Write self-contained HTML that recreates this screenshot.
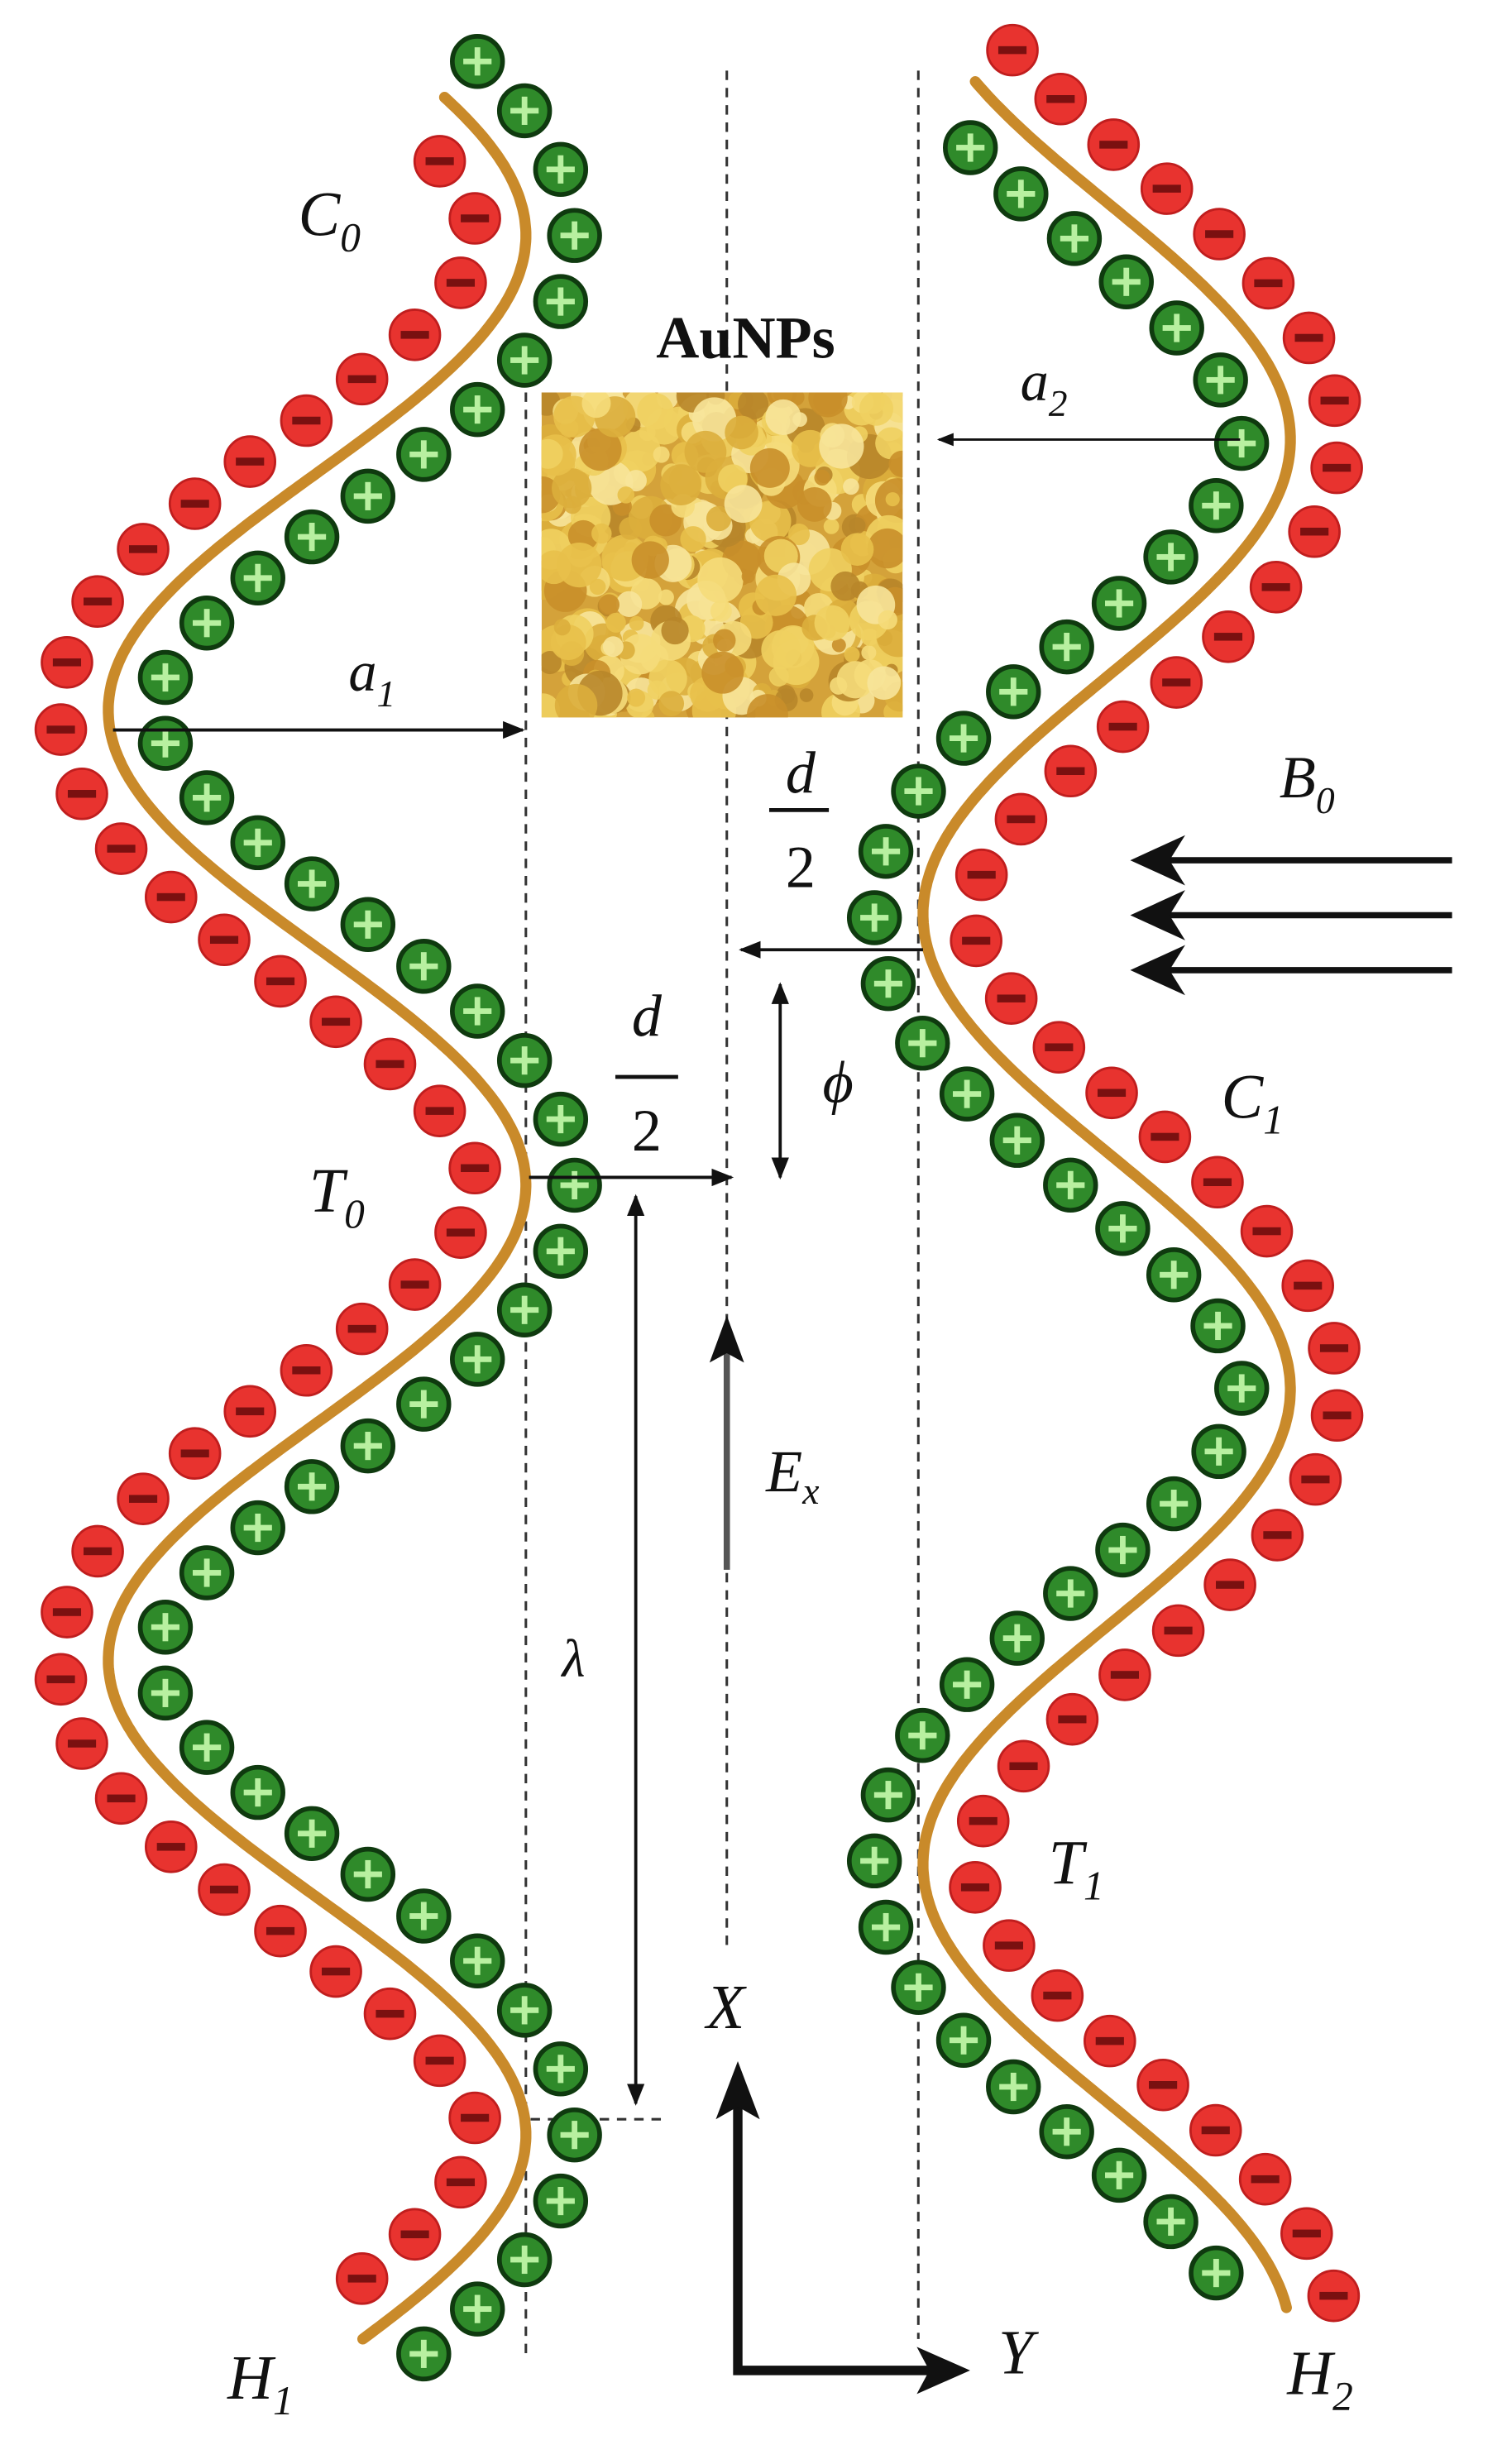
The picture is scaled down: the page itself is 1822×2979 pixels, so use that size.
<!DOCTYPE html>
<html><head><meta charset="utf-8">
<style>
html,body{margin:0;padding:0;background:#fff;}
svg{display:block;}
text{font-family:"Liberation Serif",serif;fill:#111;}
.it{font-style:italic;}
</style></head>
<body>
<svg id="s" xmlns="http://www.w3.org/2000/svg" width="1822" height="2979" viewBox="0 0 960 1569.6">
<defs>
<marker id="ah" viewBox="0 0 10 10" refX="9" refY="5" markerWidth="7" markerHeight="7" orient="auto-start-reverse"><path d="M0,1 L10,5 L0,9 z" fill="#111"/></marker>
<clipPath id="cp"><rect x="345" y="250" width="230" height="207"/></clipPath>
</defs>
<g stroke="#333" stroke-width="1.6" stroke-dasharray="6,5" fill="none">
<line x1="335" y1="250" x2="335" y2="1500"/>
<line x1="463" y1="45" x2="463" y2="1240"/>
<line x1="585" y1="45" x2="585" y2="1490"/>
<line x1="338" y1="1350" x2="425" y2="1350"/>
</g>
<g id="gold" clip-path="url(#cp)"><rect x="345" y="250" width="230" height="207" fill="#d4a23a"/></g>
<g id="helix"></g>
<text x="475" y="228" font-size="38" font-weight="bold" text-anchor="middle">AuNPs</text>
<text class="it" x="190" y="150" font-size="40">C<tspan font-size="26" dy="10">0</tspan></text>
<text class="it" x="650" y="255" font-size="36">a<tspan font-size="24" dy="10">2</tspan></text>
<text class="it" x="222" y="440" font-size="36">a<tspan font-size="24" dy="10">1</tspan></text>
<text class="it" x="815" y="508" font-size="38">B<tspan font-size="24" dy="10">0</tspan></text>
<text class="it" x="778" y="712" font-size="40">C<tspan font-size="26" dy="10">1</tspan></text>
<text class="it" x="197" y="772" font-size="40">T<tspan font-size="26" dy="10">0</tspan></text>
<text class="it" x="488" y="950" font-size="38">E<tspan font-size="24" dy="8">x</tspan></text>
<text class="it" x="358" y="1068" font-size="34">λ</text>
<text class="it" x="668" y="1200" font-size="40">T<tspan font-size="26" dy="10">1</tspan></text>
<text class="it" x="450" y="1292" font-size="40">X</text>
<text class="it" x="636" y="1512" font-size="40">Y</text>
<text class="it" x="145" y="1528" font-size="40">H<tspan font-size="26" dy="10">1</tspan></text>
<text class="it" x="820" y="1525" font-size="40">H<tspan font-size="26" dy="10">2</tspan></text>
<text class="it" x="524" y="702" font-size="38">ϕ</text>
<text class="it" x="510" y="505" font-size="38" text-anchor="middle">d</text>
<line x1="490" y1="516" x2="528" y2="516" stroke="#111" stroke-width="2.5"/>
<text x="510" y="565" font-size="38" text-anchor="middle">2</text>
<text class="it" x="412" y="660" font-size="38" text-anchor="middle">d</text>
<line x1="392" y1="686" x2="432" y2="686" stroke="#111" stroke-width="2.5"/>
<text x="412" y="733" font-size="38" text-anchor="middle">2</text>
<g stroke="#111" stroke-width="2" fill="none">
<line x1="72" y1="465" x2="333" y2="465" marker-end="url(#ah)"/>
<line x1="790" y1="280" x2="598" y2="280" stroke-width="1.5" marker-end="url(#ah)"/>
<line x1="588" y1="605" x2="472" y2="605" marker-end="url(#ah)"/>
<line x1="337" y1="750" x2="466" y2="750" marker-end="url(#ah)"/>
<line x1="497" y1="627" x2="497" y2="750" marker-start="url(#ah)" marker-end="url(#ah)"/>
<line x1="405" y1="762" x2="405" y2="1340" marker-start="url(#ah)" marker-end="url(#ah)"/>
<line x1="463" y1="1000" x2="463" y2="860" stroke="#555" stroke-width="4"/>
<path d="M470,1340 L470,1510 L595,1510" stroke-width="6"/>
<line x1="925" y1="548" x2="740" y2="548" stroke-width="4"/>
<line x1="925" y1="583" x2="740" y2="583" stroke-width="4"/>
<line x1="925" y1="618" x2="740" y2="618" stroke-width="4"/>
</g>
<g fill="#111">
<polygon points="463,838 452,868 463,862 474,868"/>
<polygon points="470,1313 456,1350 470,1342 484,1350"/>
<polygon points="618,1510 584,1495 592,1510 584,1525"/>
<polygon points="720,548 755,532 745,548 755,564"/>
<polygon points="720,583 755,567 745,583 755,599"/>
<polygon points="720,618 755,602 745,618 755,634"/>
</g>
</svg>
<script>
(function(){
var NS="http://www.w3.org/2000/svg",h=document.getElementById('helix'),gold=document.getElementById('gold');
function el(t,a,p){var e=document.createElementNS(NS,t);for(var k in a)e.setAttribute(k,a[k]);(p||h).appendChild(e);return e;}
var seed=7;function rnd(){seed=(seed*9301+49297)%233280;return seed/233280;}
var cols=["#e8c04a","#f0d060","#c98f2a","#f5dc7a","#dcae3c","#b8862a","#f7e49a"];
for(var i=0;i<420;i++){el('circle',{cx:345+rnd()*230,cy:250+rnd()*207,r:4+rnd()*11,fill:cols[Math.floor(rnd()*cols.length)],opacity:0.9},gold);}
function resample(pts,step){var out=[pts[0]],acc=0;for(var i=1;i<pts.length;i++){var dx=pts[i][0]-pts[i-1][0],dy=pts[i][1]-pts[i-1][1];acc+=Math.sqrt(dx*dx+dy*dy);if(acc>=step){out.push(pts[i]);acc=0;}}return out;}
function helix(cx,amp,y0,y1,yp,gSign,gOff,rOff){
  var L=605,pts=[],gp=[],rp=[];
  for(var y=y0;y<=y1;y+=1){
    var x=cx+amp*Math.cos(2*Math.PI*(y-yp)/L);
    var dxdy=-amp*2*Math.PI/L*Math.sin(2*Math.PI*(y-yp)/L);
    var n=Math.sqrt(1+dxdy*dxdy),nx=1/n,ny=-dxdy/n;
    pts.push([x,y]);
    gp.push([x+gSign*nx*31,y+gSign*ny*31]);
    rp.push([x-gSign*nx*31,y-gSign*ny*31]);
  }
  var d="M"+pts.filter(function(p,i){return i%2==0;}).map(function(p){return p[0].toFixed(1)+","+p[1];}).join(" L");
  el('path',{d:d,stroke:"#c98a2a",'stroke-width':7,fill:"none",'stroke-linecap':"round"});
  resample(rp.slice(rOff),43).forEach(function(p){
    el('circle',{cx:p[0],cy:p[1],r:16,fill:"#e8332f",stroke:"#c01e1e",'stroke-width':1.5});
    el('rect',{x:p[0]-9,y:p[1]-2.5,width:18,height:5,fill:"#7a1010"});
  });
  resample(gp.slice(gOff),43).forEach(function(p){
    el('circle',{cx:p[0],cy:p[1],r:16,fill:"#2f8a2a",stroke:"#0f3a0f",'stroke-width':3});
    el('rect',{x:p[0]-9,y:p[1]-1.8,width:18,height:3.6,fill:"#b8f0a0"});
    el('rect',{x:p[0]-1.8,y:p[1]-9,width:3.6,height:18,fill:"#b8f0a0"});
  });
}
helix(202,133,62,1490,150,1,0,20);
helix(705,117,52,1470,280,-1,20,0);
})();
</script>
</body></html>
